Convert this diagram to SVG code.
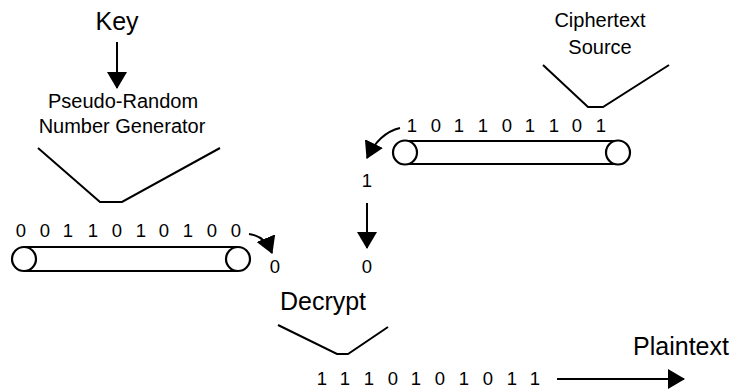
<svg xmlns="http://www.w3.org/2000/svg" width="736" height="389" viewBox="0 0 736 389">
  <style>
    text { font-family: "Liberation Sans", Arial, Helvetica, sans-serif; fill: #000; text-anchor: middle; }
    .big { font-size: 25px; }
    .mid { font-size: 20px; }
    .bits { font-size: 18.5px; }
    .line { fill: none; stroke: #000; stroke-width: 2; }
    .roller { fill: #fff; stroke: #000; stroke-width: 2.2; }
  </style>
  <defs>
    <marker id="head" viewBox="0 0 17 20" refX="16" refY="10" markerWidth="17" markerHeight="20" markerUnits="userSpaceOnUse" orient="auto">
      <path d="M0,0 L17,10 L0,20 z" fill="#000"/>
    </marker>
  </defs>

  <rect width="736" height="389" fill="#fff"/>

  <!-- key input -->
  <g id="key">
    <text class="big" x="117" y="30">Key</text>
  </g>

  <!-- pseudo-random number generator hopper -->
  <g id="prng">
    <text class="mid" x="123" y="108">Pseudo-Random</text>
    <text class="mid" x="122" y="133">Number Generator</text>
    <polyline class="line" points="38,148 100,202 122,202 220,148"/>
  </g>

  <!-- keystream conveyor -->
  <g id="keystream">
    <line class="line" x1="24" y1="247" x2="238" y2="247"/>
    <line class="line" x1="24" y1="271" x2="238" y2="271"/>
    <circle class="roller" cx="24" cy="259" r="12"/>
    <circle class="roller" cx="238" cy="259" r="12"/>
    <text class="bits" x="21 45 68 93 117 141 164 188 212 236" y="237">0011010100</text>
    <text class="bits" x="275" y="273">0</text>
  </g>

  <!-- ciphertext source hopper -->
  <g id="ciphertext-source">
    <text class="mid" x="600" y="27">Ciphertext</text>
    <text class="mid" x="600" y="54">Source</text>
    <polyline class="line" points="543,65 588,107 603,107 669,65"/>
  </g>

  <!-- ciphertext conveyor -->
  <g id="ciphertext">
    <line class="line" x1="405" y1="141" x2="618" y2="141"/>
    <line class="line" x1="405" y1="164" x2="618" y2="164"/>
    <circle class="roller" cx="405" cy="152.5" r="12"/>
    <circle class="roller" cx="618" cy="152.5" r="12"/>
    <text class="bits" x="412 436 459 483 507 530 554 577 601" y="132">101101101</text>
    <text class="bits" x="367" y="187">1</text>
    <text class="bits" x="367" y="273">0</text>
  </g>

  <!-- decrypt hopper -->
  <g id="decrypt">
    <text class="big" x="323" y="310">Decrypt</text>
    <polyline class="line" points="278,325 337,354 348,354 388,327"/>
  </g>

  <!-- plaintext output -->
  <g id="plaintext">
    <text class="bits" x="322 345 369 393 416 440 464 488 512 535" y="385">1110101011</text>
    <text class="big" x="681" y="355">Plaintext</text>
  </g>

  <!-- connectors -->
  <g id="connectors">
    <line class="line" x1="117" y1="42" x2="117" y2="88" marker-end="url(#head)"/>
    <path class="line" d="M249,234 Q265,236 272,253" marker-end="url(#head)"/>
    <path class="line" d="M400,128 Q379,133 367,158" marker-end="url(#head)"/>
    <line class="line" x1="367" y1="203" x2="367" y2="248" marker-end="url(#head)"/>
    <line class="line" x1="557" y1="379" x2="684" y2="379" marker-end="url(#head)"/>
  </g>
</svg>
